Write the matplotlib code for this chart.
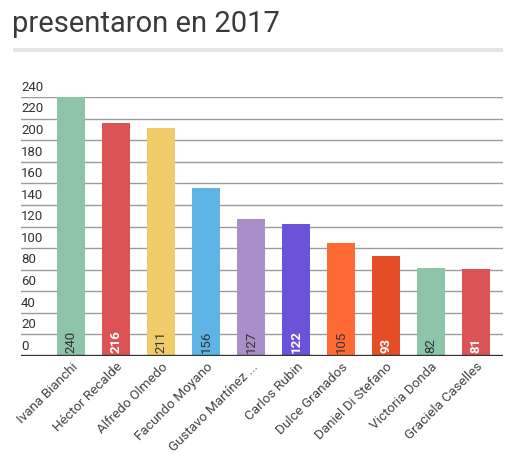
import matplotlib
matplotlib.use("Agg")
import matplotlib.pyplot as plt
from matplotlib.patches import Rectangle
from matplotlib.transforms import blended_transform_factory

plt.rcParams['font.family'] = ['Roboto', 'DejaVu Sans']

# datos
nombres = ['Ivana Bianchi', 'Héctor Recalde', 'Alfredo Olmedo', 'Facundo Moyano',
           'Gustavo Martínez ...', 'Carlos Rubin', 'Dulce Granados',
           'Daniel Di Stefano', 'Victoria Donda', 'Graciela Caselles']
valores = [240, 216, 211, 156, 127, 122, 105, 93, 82, 81]
colores = ['#8DC3A7', '#DC5356', '#F0CB69', '#5DB4E5', '#A98FC7',
           '#6C51D9', '#FF6A33', '#E44D26', '#8DC3A7', '#DC5356']
etiqueta_blanca = [False, True, False, False, False, True, False, True, False, True]
y_ticks = list(range(0, 241, 20))

W, H = 518, 457
fig = plt.figure(figsize=(W / 100, H / 100), dpi=100)

# titulo y linea separadora
fig.text(12 / W, 1 - 32 / H, 'presentaron en 2017', fontsize=21, color='#3a3a3a',
         va='baseline', ha='left')
fig.patches.append(Rectangle((13 / W, 1 - 52 / H), 490 / W, 4 / H,
                             transform=fig.transFigure, color='#e6e6e6', lw=0))

ax = fig.add_axes([21 / W, 101 / H, 482 / W, 259 / H])
x = list(range(len(valores)))
ax.bar(x, valores, width=0.622, color=colores, zorder=2)
ax.set_xlim(-1.111, 9.6)
ax.set_ylim(0, 240)

for s in ax.spines.values():
    s.set_visible(False)
ax.set_yticks([])
for v in y_ticks[1:]:
    ax.axhline(v, color='#9a9a9a', lw=1, zorder=1)
ax.axhline(0, color='#333333', lw=2.4, zorder=3)

trans = blended_transform_factory(ax.transAxes, ax.transData)
for v in y_ticks:
    ax.text(0, v + 3, str(v), transform=trans, fontsize=9.5, color='#333333',
            ha='left', va='bottom', clip_on=False)

for xi, v, blanca in zip(x, valores, etiqueta_blanca):
    ax.text(xi, 3, str(v), rotation=90, ha='center', va='bottom', fontsize=9.5,
            color='white' if blanca else '#333333',
            fontweight='bold' if blanca else 'normal', zorder=4)

ax.set_xticks(x)
ax.set_xticklabels(nombres, rotation=45, ha='right', rotation_mode='anchor',
                   fontsize=9.7, color='#444444')
ax.tick_params(axis='x', length=0, pad=3)

fig.savefig('out.png', dpi=100)
